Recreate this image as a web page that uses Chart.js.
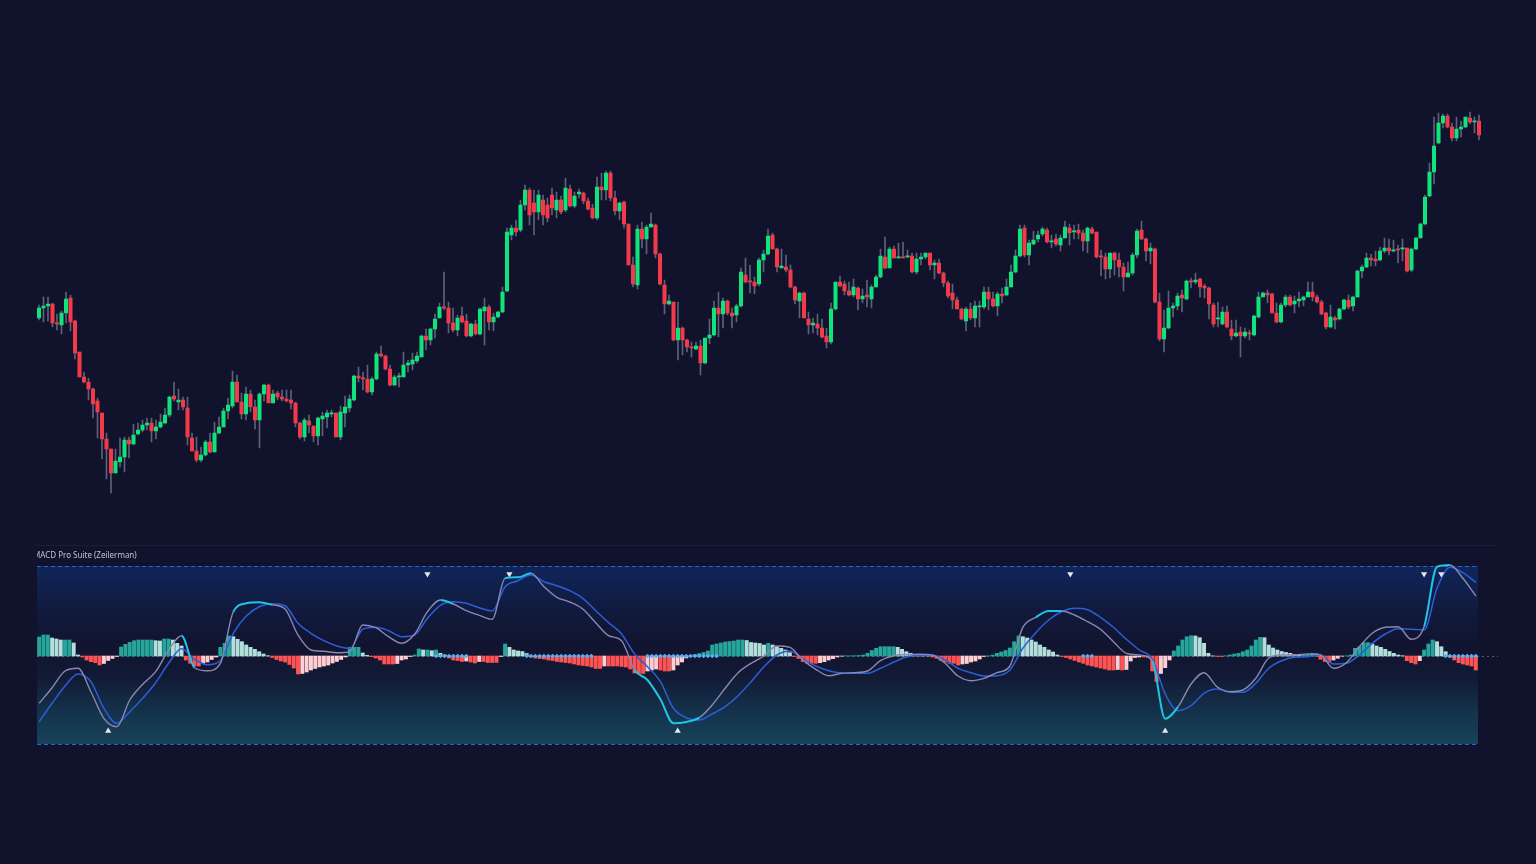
<!DOCTYPE html>
<html>
<head>
<meta charset="utf-8">
<title>MACD Pro Suite</title>
<script src="https://cdn.jsdelivr.net/npm/chart.js@4.4.1/dist/chart.umd.min.js"></script>
<style>
  html, body { margin: 0; padding: 0; background: #11122c; overflow: hidden; }
  #wrap { position: relative; width: 1536px; height: 864px; }
  #wrap canvas { position: absolute; left: 0; top: 0; }
</style>
</head>
<body>
<div id="wrap">
  <canvas id="priceChart" width="1536" height="864"></canvas>
  <canvas id="macdChart" width="1536" height="864"></canvas>
</div>
<script>
// Candles (arbitrary price units)
const opens = [
  282,292,294,296,277,275,287,302,279,248, 223,218,211,199,187,161,151,127,138,143,
  160,156,166,170,175,177,169,173,177,185, 204,198,200,192,162,149,140,145,158,148,
  167,173,189,194,218,198,186,206,193,180, 206,215,197,207,203,201,200,197,177,163,
  179,174,164,181,183,186,187,163,187,192, 200,224,222,221,208,221,246,244,231,215,
  223,223,235,236,239,243,264,260,271,282, 293,292,277,270,284,279,264,276,266,289,
  293,278,283,288,309,365,372,370,395,410, 397,388,400,395,405,390,400,390,411,394,
  406,407,399,392,382,413,410,427,402,389, 398,376,335,315,371,361,373,375,346,315,
  296,298,260,272,260,253,251,254,237,262, 265,292,286,299,287,285,294,325,319,318,
  316,340,346,365,351,332,333,330,313,299, 307,281,275,276,272,264,258,291,318,316,
  309,305,312,301,305,301,313,323,343,332, 351,342,343,343,344,328,341,343,347,335,
  337,327,317,307,300,291,279,291,282,293, 293,308,301,294,306,305,313,328,344,372,
  345,356,361,366,370,358,361,355,362,372, 368,370,367,359,371,368,344,343,331,347,
  340,333,323,327,345,370,361,349,351,298, 261,272,292,294,305,301,319,318,321,314,
  312,295,281,276,288,271,264,268,264,267, 265,283,303,307,306,287,278,295,303,296,
  299,300,303,308,303,298,287,273,282,281, 291,300,294,303,329,333,342,341,340,349,
  352,349,351,351,352,330,351,362,376,404, 428,457,477,484,473,462,471,473,482,478,
  479
];
const highs = [
  295,303,303,297,286,289,308,305,280,248, 228,222,212,202,187,167,151,151,162,163,
  163,176,177,180,182,182,180,186,192,204, 218,211,203,203,167,163,153,160,167,178,
  183,192,202,229,225,207,213,210,200,207, 216,216,210,209,210,210,210,198,178,182,
  185,174,183,188,190,190,187,194,204,205, 225,233,228,235,223,248,254,245,235,225,
  227,248,240,247,248,265,271,272,286,297, 328,298,292,285,293,286,277,280,292,302,
  295,287,289,313,372,375,380,400,415,412, 410,410,405,402,412,408,404,422,415,408,
  411,408,402,396,423,427,429,429,409,398, 399,376,343,375,378,375,387,376,347,320,
  305,298,298,273,261,258,258,260,262,281, 299,308,302,300,292,296,332,342,335,323,
  342,350,371,367,352,351,345,335,314,308, 308,288,282,286,281,272,297,318,324,319,
  318,321,313,311,320,315,325,351,363,353, 354,357,358,350,347,347,347,347,347,340,
  341,328,319,316,303,292,293,297,299,299, 313,313,308,308,312,321,335,350,375,375,
  360,369,369,373,372,365,366,365,379,376, 375,376,370,373,373,368,350,347,347,348,
  347,337,338,347,371,379,362,357,352,307, 290,309,297,307,310,320,322,327,322,316,
  313,297,298,293,294,280,280,273,272,270, 285,308,308,310,307,297,297,305,305,304,
  308,304,318,318,305,300,288,295,284,292, 301,305,304,330,335,347,346,349,353,362,
  361,360,355,361,352,352,363,377,405,437, 483,487,486,486,477,483,479,483,488,483,
  485
];
const lows = [
  280,278,279,273,270,266,277,269,241,223, 217,200,182,162,141,121,107,127,133,128,
  142,155,165,168,170,158,161,172,176,183, 199,190,190,155,149,138,138,144,147,148,
  166,173,181,192,198,181,180,188,171,152, 199,197,197,200,199,198,191,173,161,159,
  167,158,155,164,172,183,163,160,173,188, 199,218,210,207,205,220,243,230,214,214,
  213,223,228,230,237,243,250,255,262,282, 290,267,268,264,277,263,263,265,265,255,
  270,269,282,287,308,360,364,368,390,375, 365,380,375,378,385,382,386,388,393,392,
  402,396,390,381,380,400,400,399,385,380, 372,335,313,311,352,346,373,342,315,286,
  295,259,240,245,248,243,250,225,236,256, 264,263,272,285,272,278,293,317,307,306,
  314,328,345,351,328,332,328,312,296,282, 282,266,267,265,262,252,256,290,313,305,
  304,303,290,297,293,292,313,322,331,332, 342,342,342,342,327,326,335,341,330,321,
  326,313,302,291,291,280,269,280,273,273, 291,290,293,284,297,304,313,327,343,343,
  335,355,358,364,357,352,354,349,362,355, 361,361,349,347,366,342,324,321,322,325,
  323,309,323,325,342,360,339,336,297,259, 248,271,283,290,288,300,312,316,303,302,
  281,273,273,275,272,260,263,243,262,260, 264,282,303,297,287,277,277,293,294,287,
  293,294,303,299,297,285,271,272,271,280, 290,291,289,303,322,332,334,334,339,347,
  345,348,337,339,328,328,350,362,375,403, 416,456,472,472,459,459,463,472,476,467,
  460
];
const closes = [
  292,294,296,277,276,287,301,278,247,223, 218,211,196,188,161,151,127,139,143,160,
  156,165,170,175,177,169,173,178,185,203, 201,200,193,163,149,140,145,158,148,167,
  173,189,195,218,198,186,206,193,180,206, 215,197,206,203,201,199,197,177,163,180,
  175,164,182,184,187,187,163,188,193,201, 224,222,221,208,221,246,244,231,215,223,
  224,235,237,240,244,264,260,271,281,293, 292,277,270,282,278,264,276,266,291,293,
  278,283,288,308,368,372,368,395,410,385, 388,405,385,382,392,400,388,412,394,404,
  408,399,391,382,413,410,427,402,389,397, 376,335,316,371,361,373,376,346,316,296,
  299,260,272,260,253,252,254,237,262,265, 292,286,299,287,284,294,328,318,318,314,
  340,346,364,351,333,334,330,313,300,307, 282,275,277,272,263,258,291,318,314,309,
  305,313,301,304,303,313,323,344,332,351, 342,343,342,344,328,341,343,347,335,337,
  327,317,304,300,291,281,291,282,294,294, 308,301,294,306,304,313,328,344,371,345,
  357,360,365,371,358,359,356,362,373,367, 369,367,359,372,367,343,343,331,347,340,
  333,323,327,345,369,361,349,352,298,261, 272,292,294,304,302,319,318,320,313,312,
  296,276,282,288,273,264,267,264,268,266, 284,303,307,305,287,278,295,303,295,299,
  301,303,308,303,298,286,273,283,280,291, 300,293,303,329,333,342,340,339,349,352,
  349,350,350,352,329,351,362,376,403,428, 454,477,484,473,462,471,473,483,478,479,
  465
];

// MACD panel: histogram per bar, lines sampled every LINE_STEP bars
const histogram = [
  1.9,2.1,2.1,1.8,1.7,1.6,1.6,1.6,1.3,0.1, -0.1,-0.4,-0.57,-0.67,-0.9,-0.75,-0.45,-0.25,-0.05,0.9,
  1.17,1.37,1.53,1.6,1.6,1.6,1.6,1.53,1.5,1.7, 1.7,1.6,1.27,1.0,-0.4,-0.73,-1.0,-1.0,-0.75,-0.6,
  -0.35,-0.1,0.87,1.27,2.0,1.93,1.67,1.43,1.1,0.87, 0.67,0.43,0.2,0.03,-0.15,-0.35,-0.5,-0.6,-0.85,-1.2,
  -1.8,-1.75,-1.6,-1.4,-1.25,-1.1,-1.0,-0.9,-0.7,-0.55, -0.35,-0.1,0.87,0.87,0.87,0.3,0.07,-0.07,-0.2,-0.4,
  -0.8,-0.8,-0.8,-0.75,-0.4,-0.3,-0.05,0.1,0.7,0.6, 0.6,0.53,0.6,0.27,0.1,-0.2,-0.4,-0.45,-0.55,-0.5,
  -0.6,-0.7,-0.55,-0.55,-0.65,-0.65,-0.65,-0.05,1.2,0.87, 0.6,0.5,0.45,0.25,-0.1,-0.2,-0.25,-0.3,-0.4,-0.45,
  -0.55,-0.6,-0.65,-0.7,-0.8,-0.9,-0.95,-1.0,-1.1,-1.25, -1.25,-1.0,-1.0,-1.0,-1.0,-1.05,-1.1,-1.3,-1.7,-1.75,
  -1.75,-1.5,-1.4,-1.3,-1.4,-1.5,-1.5,-1.4,-0.9,-0.6, -0.2,0.05,0.15,0.25,0.35,0.5,1.1,1.2,1.3,1.4,
  1.45,1.5,1.6,1.6,1.55,1.35,1.3,1.25,1.1,1.27, 1.1,0.93,0.77,0.6,0.33,-0.05,-0.25,-0.55,-0.73,-0.73,
  -0.73,-0.67,-0.57,-0.4,-0.27,-0.1,-0.02,0.02,0.02,0.03, 0.05,0.1,0.27,0.55,0.77,0.93,0.93,0.93,0.93,0.87,
  0.67,0.43,0.27,0.15,0.05,0.03,0.02,-0.1,-0.23,-0.45, -0.6,-0.73,-0.73,-0.9,-0.8,-0.75,-0.6,-0.5,-0.3,-0.05,
  0.02,0.1,0.27,0.4,0.55,0.8,1.43,2.0,1.93,1.8, 1.6,1.4,1.1,0.87,0.6,0.4,0.1,-0.05,-0.15,-0.3,
  -0.45,-0.6,-0.73,-0.9,-1.0,-1.1,-1.2,-1.3,-1.4,-1.4, -1.35,-1.4,-1.35,-0.5,-0.15,-0.1,-0.1,-0.15,-1.5,-2.55,
  -1.75,-1.17,-0.4,0.5,1.0,1.6,1.93,2.03,2.0,1.83, 1.27,0.27,0.02,-0.05,-0.05,0.02,0.1,0.2,0.27,0.43,
  0.6,1.0,1.6,1.87,1.83,1.1,0.8,0.6,0.45,0.35, 0.27,0.15,0.1,0.1,0.1,0.27,0.2,-0.33,-0.55,-0.67,
  -0.4,-0.23,-0.02,0.02,0.1,0.77,0.93,1.33,1.33,1.2, 1.0,0.87,0.67,0.45,0.27,0.1,0.03,-0.47,-0.67,-0.8,
  -0.47,0.6,1.2,1.6,1.43,0.93,0.43,-0.13,-0.4,-0.67, -0.8,-0.9,-1.0,-1.4
];
const LINE_STEP = 3;
const macdLine = [
  -4.73,-3.17,-1.5,-1.23,-3.57,-6.23,-7.07,-4.4,-2.83,-1.57, 0.6,2.03,-1.17,-1.47,-0.73,4.43,5.27,5.37,5.13,4.7,
  2.1,0.6,0.47,0.33,0.43,3.1,2.83,1.93,1.27,2.17, 4.43,5.6,5.2,4.53,4.07,3.67,7.77,7.87,8.27,6.93,
  5.87,5.4,4.7,3.33,2.03,1.53,-1.4,-2.4,-4.33,-6.73, -6.6,-6.17,-4.9,-3.23,-1.67,-0.73,0,1.0,0.87,-0.4,
  -1.33,-1.97,-1.73,-1.67,-1.5,-0.47,0.03,0.13,0.17,0.1, -0.73,-2.0,-2.47,-2.23,-1.67,-1.0,2.87,3.87,4.5,4.5,
  4.1,3.43,2.67,1.43,0.27,0.1,-0.5,-6.27,-5.07,-2.8, -1.67,-3.07,-3.57,-3.4,-2.23,-0.2,0.1,0.1,0.2,0.1,
  -1.23,-0.67,0.93,2.27,2.87,2.93,1.67,2.93,8.93,9.1, 7.77,6.0
];
const signalLine = [
  -6.57,-4.73,-3.0,-1.8,-2.57,-5.23,-6.73,-5.57,-4.23,-2.67, -0.73,0.73,-0.33,-0.87,-0.47,2.27,4.0,4.93,5.23,5.03,
  3.27,2.27,1.53,1.0,0.77,2.67,2.87,2.53,1.93,2.1, 3.77,5.07,5.43,5.27,4.83,4.5,6.93,7.53,8.1,7.43,
  7.03,6.53,5.77,4.53,3.33,2.2,0.2,-1.07,-2.57,-5.23, -6.17,-6.4,-5.8,-5.07,-3.97,-2.57,-1.07,0.1,0.5,-0.3,
  -1.0,-1.47,-1.7,-1.73,-1.73,-1.23,-0.63,-0.1,0.07,0.07, -0.4,-1.23,-1.67,-2.0,-1.97,-1.4,0.77,2.33,3.6,4.43,
  4.77,4.63,3.87,2.87,1.67,0.6,-0.3,-3.8,-5.47,-4.97, -3.73,-3.3,-3.6,-3.63,-2.73,-1.23,-0.47,-0.13,-0.07,0.1,
  -0.8,-0.73,0.1,1.27,2.2,2.73,2.67,2.6,6.77,8.87, 8.33,7.37
];
// bar ranges where the MACD line is drawn in the "strong momentum" colour
const strongRanges = [[33, 35], [44, 53], [92, 96], [107, 114], [137, 151], [230, 237], [258, 263], [320, 327]];
// bar ranges with zero-line dots
const zeroDotRanges = [[92, 99], [113, 128], [141, 157], [242, 244], [326, 333]];
const sellSignals = [90, 109, 239, 321, 325];
const buySignals = [16, 148, 261];
const LEVEL_TOP = 9.0;
const LEVEL_BOTTOM = -8.8;
const SELL_MARK = 8.2;
const BUY_MARK = -7.5;

const UP = "#10e27c";
const DOWN = "#f23a4b";

// Price chart: wicks and bodies as floating bars
const candleIdx = closes.map((_, i) => i);
new Chart(document.getElementById("priceChart"), {
  type: "bar",
  data: {
    labels: candleIdx,
    datasets: [
      {
        label: "Wick",
        data: lows.map((l, i) => [l, highs[i]]),
        backgroundColor: "rgba(120,124,148,0.75)",
        barThickness: 1,
        minBarLength: 1,
        grouped: false,
        order: 2,
      },
      {
        label: "Body",
        data: opens.map((o, i) => [o, closes[i]]),
        backgroundColor: opens.map((o, i) => (closes[i] >= o ? UP : DOWN)),
        barThickness: 3.4,
        minBarLength: 1.2,
        grouped: false,
        order: 1,
      },
    ],
  },
  options: {
    responsive: false,
    animation: false,
    events: [],
    layout: { autoPadding: false, padding: { left: 36.75, right: 54.75, top: 0, bottom: 0 } },
    plugins: { legend: { display: false }, tooltip: { enabled: false } },
    scales: {
      x: { display: false, offset: true },
      y: { display: false, min: -264, max: 600 },
    },
  },
});

// MACD panel background, levels, zero line and title
const panelPlugin = {
  id: "panel",
  beforeDatasetsDraw(chart) {
    const { ctx, chartArea, scales } = chart;
    const y = scales.y;
    const top = y.getPixelForValue(LEVEL_TOP);
    const bottom = y.getPixelForValue(LEVEL_BOTTOM);
    const zero = y.getPixelForValue(0);
    const left = chartArea.left, right = chartArea.right;
    ctx.save();

    // separator above the pane
    ctx.strokeStyle = "#1b1d3a";
    ctx.lineWidth = 1;
    ctx.beginPath();
    ctx.moveTo(left, 545.5);
    ctx.lineTo(1498, 545.5);
    ctx.stroke();

    const g = ctx.createLinearGradient(0, top, 0, bottom);
    g.addColorStop(0, "#10265a");
    g.addColorStop(0.25, "#111a3d");
    g.addColorStop(0.45, "#11142f");
    g.addColorStop(0.62, "#121a35");
    g.addColorStop(0.82, "#14324b");
    g.addColorStop(1, "#17435a");
    ctx.fillStyle = g;
    ctx.fillRect(left, top, right - left, bottom - top);

    ctx.strokeStyle = "#2f62d6";
    ctx.setLineDash([4, 3]);
    ctx.beginPath();
    ctx.moveTo(left, Math.round(top) + 0.5);
    ctx.lineTo(right, Math.round(top) + 0.5);
    ctx.moveTo(left, Math.round(bottom) + 0.5);
    ctx.lineTo(right, Math.round(bottom) + 0.5);
    ctx.stroke();

    ctx.strokeStyle = "#565a72";
    ctx.setLineDash([2, 3]);
    ctx.beginPath();
    ctx.moveTo(left, Math.round(zero) + 0.5);
    ctx.lineTo(1498, Math.round(zero) + 0.5);
    ctx.stroke();
    ctx.setLineDash([]);

    // title, clipped on the left like the original
    ctx.beginPath();
    ctx.rect(left, 546, 300, 18);
    ctx.clip();
    ctx.fillStyle = "#c3c3d0";
    ctx.font = '8px "Noto Sans", sans-serif';
    ctx.textBaseline = "middle";
    ctx.fillText("MACD Pro Suite (Zeilerman)", left - 4, 555.5);
    ctx.restore();
  },
};

const histColors = histogram.map((v, k) => {
  const prev = k ? histogram[k - 1] : v;
  if (v >= 0) return v >= prev ? "#26a69a" : "#b2dfdb";
  return v <= prev ? "#ff5252" : "#ffcdd2";
});
const inStrong = (k) => strongRanges.some(([a, b]) => k >= a && k < b);
const linePoints = (arr) => arr.map((v, j) => ({ x: j * LINE_STEP, y: v }));
const zeroDots = [];
zeroDotRanges.forEach(([a, b]) => {
  for (let k = a; k <= b; k++) zeroDots.push({ x: k, y: 0 });
});

new Chart(document.getElementById("macdChart"), {
  type: "bar",
  data: {
    datasets: [
      {
        type: "line",
        label: "MACD",
        data: linePoints(macdLine),
        borderColor: "#8c86b4",
        borderWidth: 1.4,
        pointRadius: 0,
        cubicInterpolationMode: "monotone",
        segment: {
          borderColor: (c) => (inStrong(c.p0.parsed.x) ? "#1ec6e4" : undefined),
          borderWidth: (c) => (inStrong(c.p0.parsed.x) ? 2 : undefined),
        },
        order: 0,
      },
      {
        type: "line",
        label: "Signal",
        data: linePoints(signalLine),
        borderColor: "#2b5ed8",
        borderWidth: 1.5,
        pointRadius: 0,
        cubicInterpolationMode: "monotone",
        order: 1,
      },
      {
        type: "line",
        label: "Sell",
        data: sellSignals.map((k) => ({ x: k, y: SELL_MARK })),
        showLine: false,
        pointStyle: "triangle",
        rotation: 180,
        pointRadius: 3.6,
        backgroundColor: "#e6e6ef",
        borderWidth: 0,
        order: 0,
      },
      {
        type: "line",
        label: "Buy",
        data: buySignals.map((k) => ({ x: k, y: BUY_MARK })),
        showLine: false,
        pointStyle: "triangle",
        pointRadius: 3.6,
        backgroundColor: "#e6e6ef",
        borderWidth: 0,
        order: 0,
      },
      {
        type: "line",
        label: "Zero dots",
        data: zeroDots,
        showLine: false,
        pointStyle: "rectRot",
        pointRadius: 2.3,
        backgroundColor: "#5aaef2",
        borderWidth: 0,
        order: 2,
      },
      {
        label: "Histogram",
        data: histogram.map((v, k) => ({ x: k, y: v })),
        backgroundColor: histColors,
        barThickness: 3.3,
        order: 3,
      },
    ],
  },
  options: {
    responsive: false,
    animation: false,
    events: [],
    layout: { autoPadding: false, padding: { left: 37, right: 58, top: 0, bottom: 0 } },
    plugins: { legend: { display: false }, tooltip: { enabled: false } },
    scales: {
      x: { type: "linear", display: false, offset: false, min: -0.5, max: histogram.length - 0.5 },
      y: { display: false, min: -20.8, max: 65.6 },
    },
  },
  plugins: [panelPlugin],
});
</script>
</body>
</html>
